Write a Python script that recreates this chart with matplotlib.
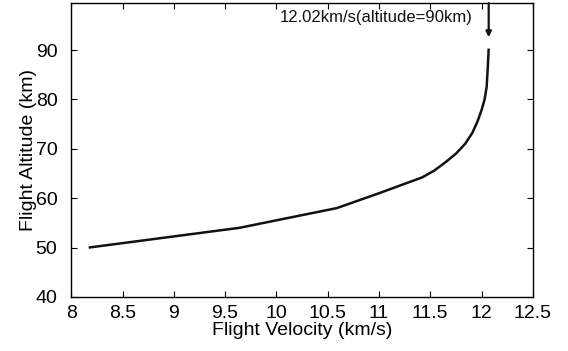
import matplotlib
matplotlib.use("Agg")
import matplotlib.pyplot as plt

velocity = [8.17, 9.64, 10.59, 11.0, 11.42, 11.54, 11.65, 11.75, 11.84, 11.91, 11.96, 12.0, 12.03, 12.05, 12.06, 12.07]
altitude = [50.0, 54.0, 58.0, 61.0, 64.2, 65.6, 67.3, 69.0, 71.0, 73.2, 75.5, 77.8, 80.0, 82.5, 86.0, 90.3]
x_ticks = [8, 8.5, 9, 9.5, 10, 10.5, 11, 11.5, 12, 12.5]
x_tick_labels = ["8", "8.5", "9", "9.5", "10", "10.5", "11", "11.5", "12", "12.5"]
y_ticks = [40, 50, 60, 70, 80, 90]
annot_text = "12.02km/s(altitude=90km)"
arrow_x = 12.07
arrow_tip = 92.6
arrow_start = 99.5

plt.rcParams['font.family'] = ['Liberation Sans', 'DejaVu Sans']

fig = plt.figure(figsize=(5.68, 3.51), dpi=100)
ax = fig.add_axes([0.1255, 0.154, 0.8125, 0.837])

ax.plot(velocity, altitude, color='#111111', lw=1.8, solid_capstyle='butt', solid_joinstyle='round')
ax.annotate("", xy=(arrow_x, arrow_tip), xytext=(arrow_x, arrow_start),
            arrowprops=dict(arrowstyle='-|>', color='#111111', lw=1.6,
                            mutation_scale=8, shrinkA=0, shrinkB=0))
ax.text(11.91, 96.6, annot_text, ha='right', va='center', fontsize=12, color='#111111')

ax.set_xlim(8, 12.5)
ax.set_ylim(40, 99.5)
ax.set_xticks(x_ticks)
ax.set_xticklabels(x_tick_labels)
ax.set_yticks(y_ticks)
ax.tick_params(direction='in', length=4, labelsize=14, top=True, right=True)
ax.tick_params(axis='x', pad=6)
ax.tick_params(axis='y', pad=10)
ax.set_xlabel("Flight Velocity (km/s)", fontsize=14, labelpad=0)
ax.set_ylabel("Flight Altitude (km)", fontsize=14, labelpad=-1)
for s in ax.spines.values():
    s.set_linewidth(1.0)

fig.savefig("out.png", dpi=100)
